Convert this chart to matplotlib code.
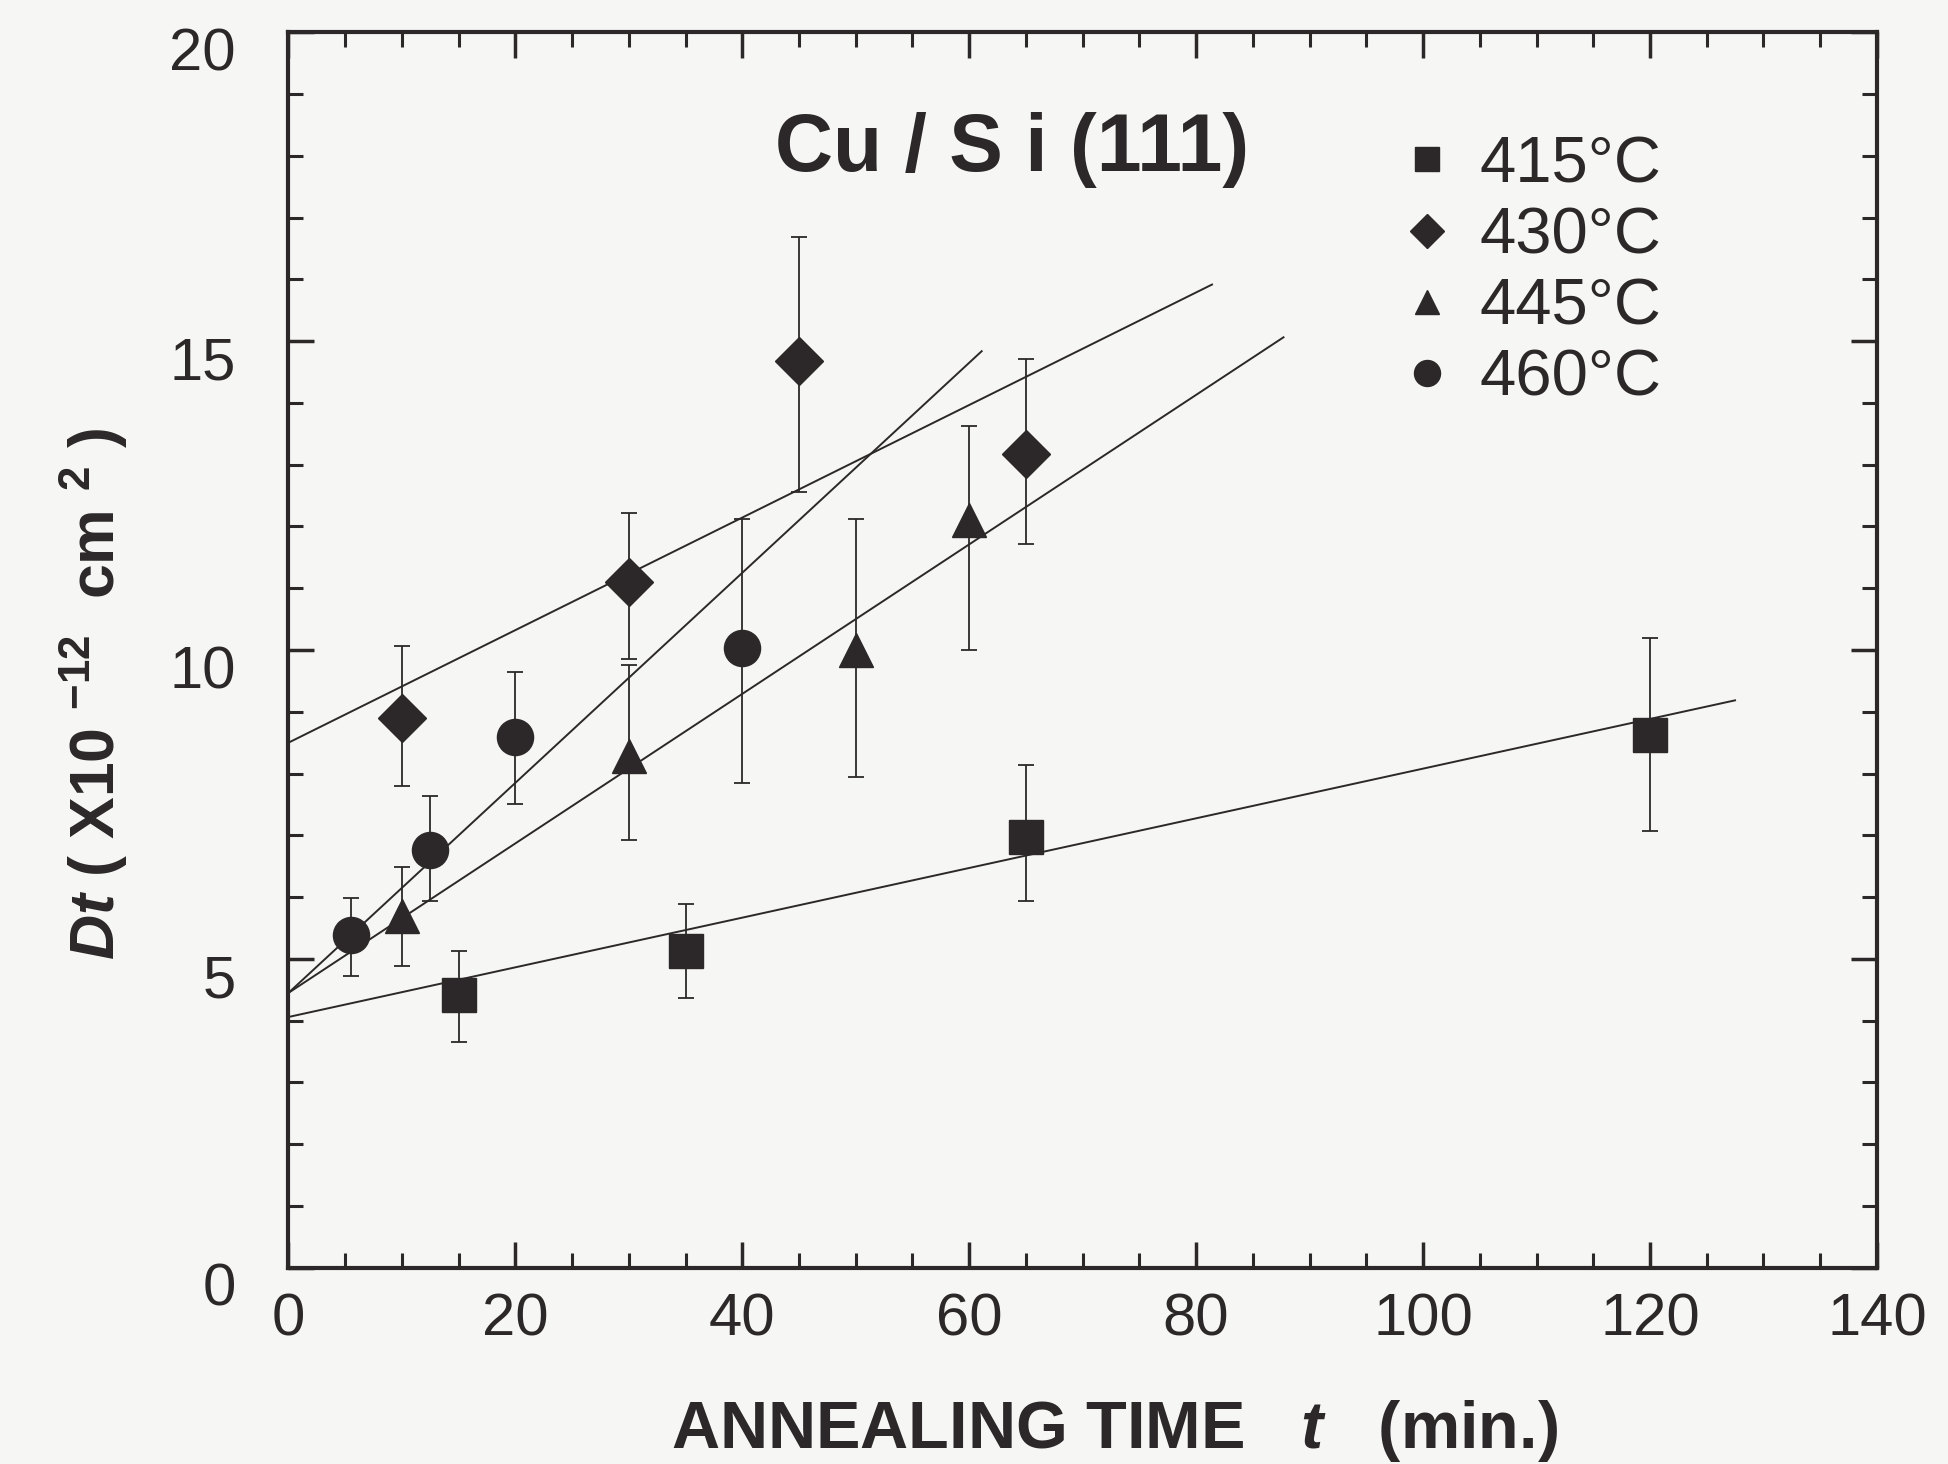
import numpy as np
import matplotlib.pyplot as plt
from matplotlib.transforms import ScaledTranslation

plt.rcParams['font.family'] = ['Liberation Sans', 'DejaVu Sans']
plt.rcParams['mathtext.fontset'] = 'custom'
plt.rcParams['mathtext.rm'] = 'Liberation Sans:bold'
plt.rcParams['mathtext.it'] = 'Liberation Sans:italic:bold'
plt.rcParams['mathtext.bf'] = 'Liberation Sans:bold'

# data
labels = ['415°C', '430°C', '445°C', '460°C']
markers = ['s', 'D', '^', 'o']
msizes = [24, 24, 24, 26]

t415 = [15, 35, 65, 120]
d415 = [4.42, 5.13, 6.97, 8.62]
lo415 = [3.66, 4.36, 5.93, 7.07]
hi415 = [5.13, 5.89, 8.14, 10.2]

t430 = [10, 30, 45, 65]
d430 = [8.9, 11.1, 14.67, 13.17]
lo430 = [7.8, 9.85, 12.56, 11.72]
hi430 = [10.07, 12.22, 16.68, 14.71]

t445 = [10, 30, 50, 60]
d445 = [5.69, 8.28, 10.0, 12.1]
lo445 = [4.88, 6.93, 7.94, 10.0]
hi445 = [6.49, 9.75, 12.12, 13.63]

t460 = [5.5, 12.5, 20, 40]
d460 = [5.39, 6.77, 8.6, 10.03]
lo460 = [4.72, 5.93, 7.5, 7.84]
hi460 = [5.99, 7.64, 9.65, 12.12]

# fitted lines: intercept, slope, end of line (min)
fit_b = [4.06, 8.5, 4.45, 4.45]
fit_m = [0.0402, 0.0911, 0.121, 0.170]
fit_end = [127.5, 81.4, 87.7, 61.1]

ink = '#2c2829'
bg = '#f6f6f4'

fig = plt.figure(figsize=(19.49, 14.64), dpi=100, facecolor=bg)
ax = fig.add_axes([0.148, 0.134, 0.815, 0.844], facecolor=bg)

series = [(t415, d415, lo415, hi415), (t430, d430, lo430, hi430),
          (t445, d445, lo445, hi445), (t460, d460, lo460, hi460)]

for i, (t, d, lo, hi) in enumerate(series):
    t = np.array(t); d = np.array(d)
    yerr = [d - np.array(lo), np.array(hi) - d]
    ax.errorbar(t, d, yerr=yerr, fmt='none', ecolor=ink, elinewidth=1.3,
                capsize=6, capthick=1.3, zorder=2)
    xs = np.array([0, fit_end[i]])
    ax.plot(xs, fit_b[i] + fit_m[i] * xs, color=ink, lw=1.4, zorder=2)
    ax.plot(t, d, linestyle='none', marker=markers[i], ms=msizes[i],
            color=ink, zorder=3, label=labels[i])

ax.set_xlim(0, 140)
ax.set_ylim(0, 20)
ax.set_xticks(np.arange(0, 141, 20))
ax.set_xticks(np.arange(0, 141, 5), minor=True)
ax.set_yticks(np.arange(0, 21, 5))
ax.set_yticks(np.arange(0, 21, 1), minor=True)

for s in ax.spines.values():
    s.set_linewidth(3)
    s.set_color(ink)
ax.tick_params(which='both', direction='in', top=True, right=True, color=ink)
ax.tick_params(which='major', length=19, width=2.5, labelsize=43, labelcolor=ink)
ax.tick_params(which='minor', length=11, width=2.2)
ax.tick_params(axis='y', pad=38)
ax.tick_params(axis='x', pad=18)

for lab in ax.get_yticklabels():
    lab.set_transform(lab.get_transform() + ScaledTranslation(0, -12 / 72, fig.dpi_scale_trans))

ax.set_xlabel('ANNEALING TIME   $t$   (min.)', fontsize=48, fontweight='bold',
              color=ink)
ax.xaxis.set_label_coords(0.52, -0.105)
ax.set_ylabel('$Dt$ ( X10 $^{\\mathregular{-12}}$  cm $^{\\mathregular{2}}$ )',
              fontsize=45, fontweight='bold', color=ink)
ax.yaxis.set_label_coords(-0.1, 0.465)

ax.text(63.8, 18.1, 'Cu / S i (111)', fontsize=58, fontweight='bold',
        color=ink, ha='center', va='center')

ax.legend(loc='upper left', bbox_to_anchor=(0.68, 0.943), frameon=False,
          fontsize=47, handlelength=0.8, handletextpad=0.4, labelspacing=0.17,
          borderpad=0, markerscale=0.72, labelcolor=ink)

fig.savefig('out.png', dpi=100, facecolor=bg)
